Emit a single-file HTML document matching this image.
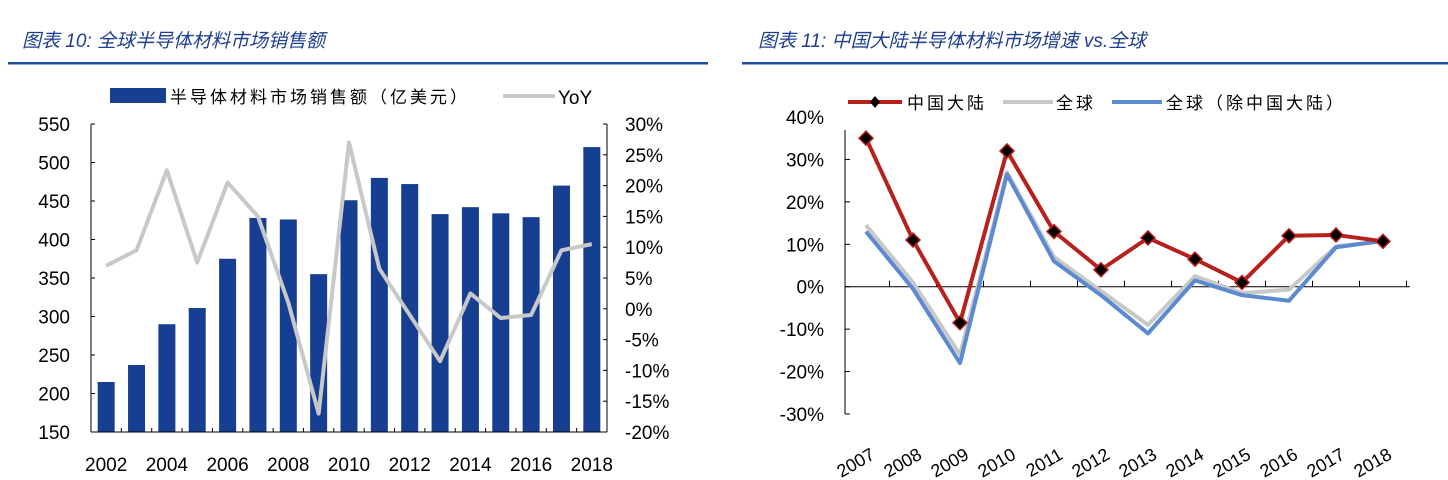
<!DOCTYPE html>
<html><head><meta charset="utf-8"><style>
body{margin:0;width:1448px;height:480px;background:#fff;overflow:hidden;font-family:"Liberation Sans","Noto Sans CJK SC",sans-serif}
svg{position:absolute;left:0;top:0}
</style></head><body>
<svg width="1448" height="480">
<g>
<text x="22" y="47" font-size="19" font-style="italic" fill="#1f3f8f" font-family="Liberation Sans,Noto Sans CJK SC,sans-serif">图表 10:  全球半导体材料市场销售额</text>
<rect x="8" y="62" width="700" height="2.5" fill="#1f4e9c"/>
</g>
<g>
<text x="758" y="47" font-size="19" font-style="italic" fill="#1f3f8f" font-family="Liberation Sans,Noto Sans CJK SC,sans-serif">图表 11:  中国大陆半导体材料市场增速 vs.全球</text>
<rect x="742" y="62" width="706" height="2.5" fill="#1f4e9c"/>
</g>
<g id="c1"></g>
<g id="c2"></g>
</svg>
<script>
const years1=["2002","2003","2004","2005","2006","2007","2008","2009","2010","2011","2012","2013","2014","2015","2016","2017","2018"];
const sales=[215,237,290,311,375,428,426,355,451,480,472,433,442,434,429,470,520];
const yoy=[7,9.5,22.5,7.5,20.5,15,1,-17,27,6.5,-1,-8.5,2.5,-1.5,-1,9.5,10.5];
const leftTicks=[150,200,250,300,350,400,450,500,550];
const rightTicks=[-20,-15,-10,-5,0,5,10,15,20,25,30];
const years2=["2007","2008","2009","2010","2011","2012","2013","2014","2015","2016","2017","2018"];
const china=[35,11,-8.5,32,13,4,11.5,6.5,1,12,12.2,10.7];
const globalG=[14.5,1,-16,27,7,-1,-9,2.5,-1.5,-0.7,9.5,10.7];
const exChina=[13,-0.5,-18,26.5,6,-2,-11,1.5,-2,-3.3,9.3,10.8];
const pctTicks=[-30,-20,-10,0,10,20,30,40];
const NS="http://www.w3.org/2000/svg";
function mk(p,t,a,txt){const e=document.createElementNS(NS,t);for(const k in a)e.setAttribute(k,a[k]);if(txt!==undefined)e.textContent=txt;p.appendChild(e);return e;}
// chart 1
const c1=document.getElementById('c1');
const L=91,R=607,T=124,B=432;
const yL=v=>B-(v-150)/400*(B-T);
const yR=v=>B-(v+20)/50*(B-T);
const step1=(R-L)/years1.length;
const x1=i=>L+step1*(i+0.5);
let e;
sales.forEach((v,i)=>{e=mk(c1,'rect',{x:x1(i)-8.5,y:yL(v),width:17,height:B-yL(v),fill:'#163f92'});

});
e=mk(c1,'line',{x1:L,y1:T,x2:L,y2:B,stroke:'#000'});
e=mk(c1,'line',{x1:R,y1:T,x2:R,y2:B,stroke:'#000'});
e=mk(c1,'line',{x1:L,y1:B,x2:R,y2:B,stroke:'#000'});
leftTicks.forEach(v=>{mk(c1,'line',{x1:L,y1:yL(v),x2:L+4,y2:yL(v),stroke:'#000'});
e=mk(c1,'text',{x:L-21,y:yL(v)+7,'font-size':19,'text-anchor':'end'},v);});
rightTicks.forEach(v=>{mk(c1,'line',{x1:R-4,y1:yR(v),x2:R,y2:yR(v),stroke:'#000'});
e=mk(c1,'text',{x:R+18,y:yR(v)+7,'font-size':19},v+'%');});
for(let i=1;i<years1.length;i++)mk(c1,'line',{x1:L+step1*i,y1:B,x2:L+step1*i,y2:B-4,stroke:'#000'});
years1.forEach((y,i)=>{if(i%2==0){e=mk(c1,'text',{x:x1(i),y:471,'font-size':19,'text-anchor':'middle'},y);}});
e=mk(c1,'polyline',{points:yoy.map((v,i)=>x1(i)+','+yR(v)).join(' '),fill:'none',stroke:'#c8c8c8','stroke-width':4,'stroke-linejoin':'round'});

e=mk(c1,'rect',{x:110,y:88,width:56,height:15,fill:'#163f92'});
e=mk(c1,'text',{x:170,y:103,'font-size':17,'letter-spacing':3},'半导体材料市场销售额（亿美元）');
e=mk(c1,'line',{x1:503,y1:96,x2:555,y2:96,stroke:'#c8c8c8','stroke-width':4});
e=mk(c1,'text',{x:558,y:104,'font-size':19},'YoY');
// chart 2
const c2=document.getElementById('c2');
const L2=845,R2=1410,T2=117,B2=414;
const y2=v=>B2-(v+30)/70*(B2-T2);
const x2=i=>866+47*i;
e=mk(c2,'line',{x1:L2,y1:130,x2:L2,y2:B2,stroke:'#000'});
pctTicks.forEach(v=>{if(v<40)mk(c2,'line',{x1:L2,y1:y2(v),x2:L2+5,y2:y2(v),stroke:'#000'});
e=mk(c2,'text',{x:L2-21,y:y2(v)+7,'font-size':19,'text-anchor':'end'},v+'%');});
e=mk(c2,'line',{x1:L2,y1:y2(0),x2:R2,y2:y2(0),stroke:'#000'});
for(let i=0;i<years2.length;i++){const xb=x2(i)+23.5;mk(c2,'line',{x1:xb,y1:y2(0),x2:xb,y2:y2(0)-6,stroke:'#000'});
const tx=x2(i)+10,ty=458;
e=mk(c2,'text',{x:tx,y:ty,'font-size':18,'text-anchor':'end',transform:'rotate(-30 '+tx+' '+ty+')'},years2[i]);}
const line=(d,c,n)=>{const p=mk(c2,'polyline',{points:d.map((v,i)=>x2(i)+','+y2(v)).join(' '),fill:'none',stroke:c,'stroke-width':4,'stroke-linejoin':'round'});};
line(globalG,'#c8c8c8','global-line');
line(exChina,'#5b8ad0','ex-china-line');
line(china,'#b8201c','china-line');
china.forEach((v,i)=>{e=mk(c2,'path',{d:`M${x2(i)},${y2(v)-7}l7,7l-7,7l-7,-7z`,fill:'#000',stroke:'#b8201c','stroke-width':1.5});});
e=mk(c2,'line',{x1:848,y1:102,x2:902,y2:102,stroke:'#b8201c','stroke-width':4});
mk(c2,'path',{d:'M875,96l5,6l-5,6l-5,-6z',fill:'#000'});
e=mk(c2,'text',{x:907,y:109,'font-size':17,'letter-spacing':3},'中国大陆');
e=mk(c2,'line',{x1:1003,y1:102,x2:1053,y2:102,stroke:'#c8c8c8','stroke-width':4});
e=mk(c2,'text',{x:1056,y:109,'font-size':17,'letter-spacing':3},'全球');
e=mk(c2,'line',{x1:1112,y1:102,x2:1162,y2:102,stroke:'#5b8ad0','stroke-width':4});
e=mk(c2,'text',{x:1166,y:109,'font-size':17,'letter-spacing':3},'全球（除中国大陆）');
</script>
</body></html>
